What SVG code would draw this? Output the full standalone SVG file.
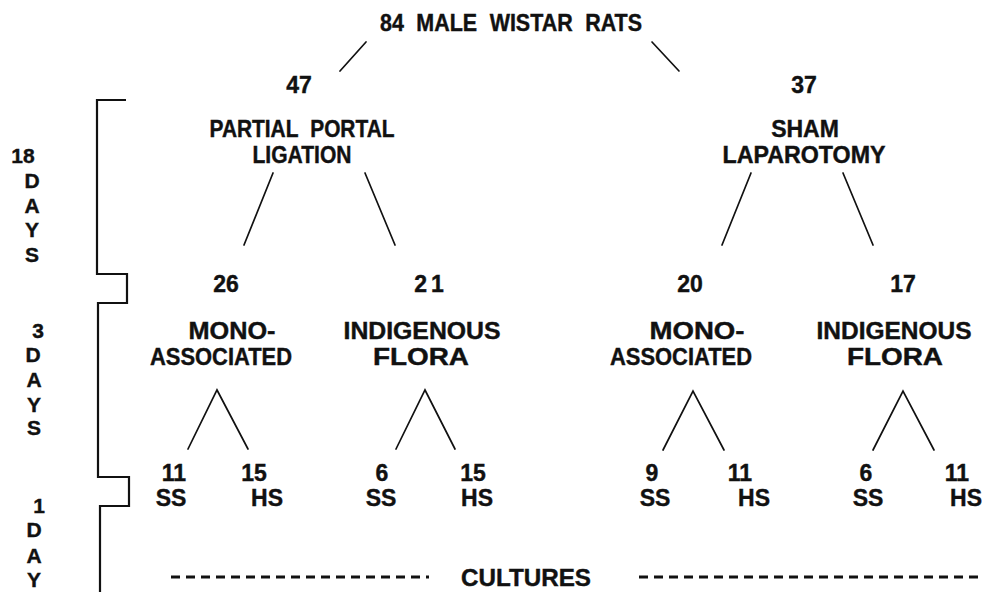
<svg xmlns="http://www.w3.org/2000/svg" width="984" height="592" viewBox="0 0 984 592">
<style>
text{font-family:"Liberation Sans",Arial,sans-serif;font-weight:bold;fill:#111;text-anchor:middle;stroke:#111;stroke-width:0.4}
.m{font-size:23px}
.s{font-size:21px}
.ln{stroke:#111;stroke-width:1.7;fill:none;stroke-linecap:round}
.br{stroke:#111;stroke-width:2.2;fill:none}
.dash{stroke:#111;stroke-width:3;stroke-dasharray:9 6}
</style>
<rect width="984" height="592" fill="#fff"/>
<g id="connectors">
<line class="ln" x1="366" y1="42" x2="340" y2="71"/>
<line class="ln" x1="652" y1="42" x2="679" y2="71"/>
<line class="ln" x1="273" y1="173" x2="244" y2="245"/>
<line class="ln" x1="365" y1="173" x2="395" y2="245"/>
<line class="ln" x1="751" y1="173" x2="722" y2="245"/>
<line class="ln" x1="843" y1="173" x2="873" y2="245"/>
<polyline class="ln" points="188,449 217,390 248,449"/>
<polyline class="ln" points="396,449 425,390 455,449"/>
<polyline class="ln" points="663,450 693,391 724,450"/>
<polyline class="ln" points="873,450 903,391 934,450"/>
</g>
<g id="timeline">
<path class="br" d="M126,100 H97 V274 H127 V303 H98 V477 H129 V506 H100 V592"/>
<text class="s" x="23" y="163">18</text>
<text class="s" x="32" y="188">D</text>
<text class="s" x="32" y="213">A</text>
<text class="s" x="32" y="237">Y</text>
<text class="s" x="32" y="262">S</text>
<text class="s" x="38" y="338">3</text>
<text class="s" x="33" y="362">D</text>
<text class="s" x="34" y="387">A</text>
<text class="s" x="34" y="412">Y</text>
<text class="s" x="34" y="435">S</text>
<text class="s" x="39" y="513">1</text>
<text class="s" x="34" y="537">D</text>
<text class="s" x="34" y="563">A</text>
<text class="s" x="34" y="587">Y</text>
</g>
<g id="root"><text class="m" x="511" y="31" textLength="262" lengthAdjust="spacingAndGlyphs" word-spacing="7">84 MALE WISTAR RATS</text></g>
<g id="ppl">
<text class="m" x="299" y="93">47</text>
<text class="m" x="302" y="137" textLength="185" lengthAdjust="spacingAndGlyphs" word-spacing="7">PARTIAL PORTAL</text>
<text class="m" x="302" y="163" textLength="99" lengthAdjust="spacingAndGlyphs">LIGATION</text>
</g>
<g id="sham">
<text class="m" x="804" y="93">37</text>
<text class="m" x="805" y="137">SHAM</text>
<text class="m" x="804" y="163" textLength="163" lengthAdjust="spacingAndGlyphs">LAPAROTOMY</text>
</g>
<g id="ppl-mono">
<text class="m" x="226" y="292">26</text>
<text class="m" x="232" y="339" textLength="87" lengthAdjust="spacingAndGlyphs">MONO-</text>
<text class="m" x="221" y="365" textLength="142" lengthAdjust="spacingAndGlyphs">ASSOCIATED</text>
</g>
<g id="ppl-indig">
<text class="m" x="431" y="292" letter-spacing="4">21</text>
<text class="m" x="422" y="339" textLength="157" lengthAdjust="spacingAndGlyphs">INDIGENOUS</text>
<text class="m" x="421" y="365" textLength="96" lengthAdjust="spacingAndGlyphs">FLORA</text>
</g>
<g id="sham-mono">
<text class="m" x="690" y="292">20</text>
<text class="m" x="697" y="339" textLength="95" lengthAdjust="spacingAndGlyphs">MONO-</text>
<text class="m" x="681" y="365" textLength="142" lengthAdjust="spacingAndGlyphs">ASSOCIATED</text>
</g>
<g id="sham-indig">
<text class="m" x="903" y="292">17</text>
<text class="m" x="894" y="339" textLength="155" lengthAdjust="spacingAndGlyphs">INDIGENOUS</text>
<text class="m" x="895" y="365" textLength="96" lengthAdjust="spacingAndGlyphs">FLORA</text>
</g>
<g id="ppl-mono-ss"><text class="m" x="174" y="481">11</text><text class="m" x="171" y="506">SS</text></g>
<g id="ppl-mono-hs"><text class="m" x="254" y="481">15</text><text class="m" x="267" y="506">HS</text></g>
<g id="ppl-indig-ss"><text class="m" x="382" y="481">6</text><text class="m" x="381" y="506">SS</text></g>
<g id="ppl-indig-hs"><text class="m" x="473" y="481">15</text><text class="m" x="477" y="506">HS</text></g>
<g id="sham-mono-ss"><text class="m" x="652" y="481">9</text><text class="m" x="655" y="506">SS</text></g>
<g id="sham-mono-hs"><text class="m" x="740" y="481">11</text><text class="m" x="754" y="506">HS</text></g>
<g id="sham-indig-ss"><text class="m" x="866" y="481">6</text><text class="m" x="868" y="506">SS</text></g>
<g id="sham-indig-hs"><text class="m" x="957" y="481">11</text><text class="m" x="966" y="506">HS</text></g>
<g id="cultures">
<line class="dash" x1="171" y1="577" x2="429" y2="577"/>
<text class="m" x="526" y="586" textLength="130" lengthAdjust="spacingAndGlyphs">CULTURES</text>
<line class="dash" x1="639" y1="577" x2="984" y2="577"/>
</g>
</svg>
